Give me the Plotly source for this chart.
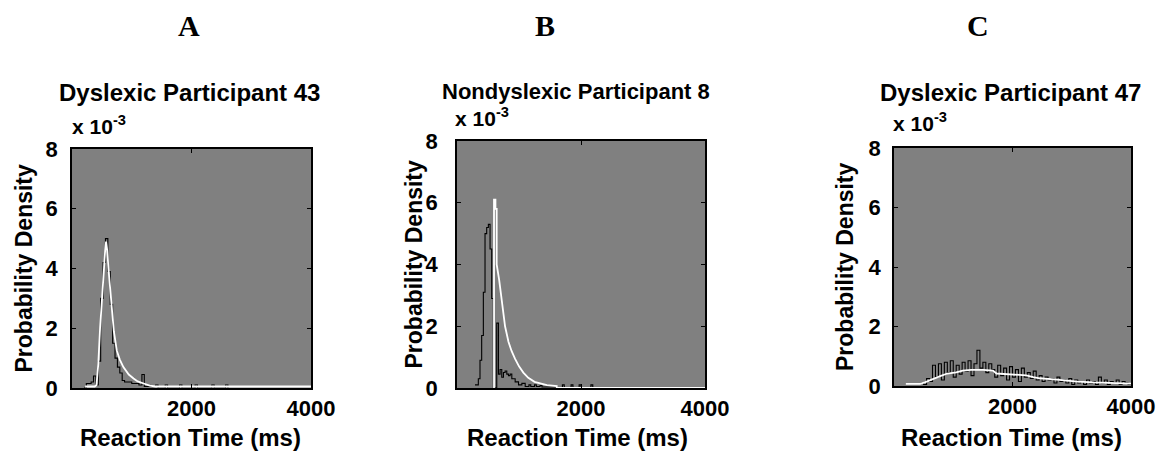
import plotly.graph_objects as go

# ---------------- data (values in units of 1e-3) ----------------
panel_letters = ["A", "B", "C"]
panel_titles = ["Dyslexic Participant 43", "Nondyslexic Participant 8", "Dyslexic Participant 47"]
x_ticks = [2000, 4000]
y_ticks = [0, 2, 4, 6, 8]

# Panel A: histogram (bin left edges / heights) and fitted density
hist_a_x = [200, 240, 280, 320, 360, 400, 440, 480, 520, 560, 600, 640, 680, 720, 760, 800, 840, 880, 1000, 1120,
            1170, 1210, 1400, 1440, 1560, 1600, 1800, 1840, 2060, 2100, 2340, 2380, 2570, 2610]
hist_a_y = [0.0, 0.15, 0.15, 0.2, 0.4, 0.1, 0.9, 3.0, 4.2, 5.0, 3.9, 2.8, 1.5, 1.0, 0.7, 0.5, 0.25, 0.2, 0.15, 0.1,
            0.45, 0.05, 0.1, 0.0, 0.1, 0.0, 0.1, 0.0, 0.1, 0.0, 0.1, 0.0, 0.1, 0.0]
fit_a_x = [220, 380, 410, 440, 470, 500, 530, 555, 570, 590, 610, 640, 670, 700, 750, 800, 860, 950, 1030, 1100,
           1200, 1300, 1400, 4000]
fit_a_y = [0.05, 0.05, 0.1, 0.8, 2.0, 3.0, 4.0, 4.6, 4.9, 4.6, 4.0, 3.3, 2.6, 1.9, 1.25, 0.95, 0.7, 0.45, 0.32, 0.22,
           0.15, 0.08, 0.05, 0.05]

# Panel B
hist_b_x = [290, 317, 344, 371, 398, 425, 452, 479, 506, 533, 560, 587, 641, 668, 695, 722, 749, 776, 803, 830,
            857, 884, 911, 938, 965, 992, 1019, 1046, 1073, 1100, 1160, 1190, 1250, 1280, 1340, 1370, 1600, 1700,
            1730, 1840, 1870, 1970, 2000, 2160, 2190]
hist_b_y = [0.1, 0.1, 0.3, 0.9, 1.7, 3.1, 5.0, 5.2, 5.3, 4.5, 2.9, 0.0, 2.1, 0.45, 0.6, 0.35, 0.5, 0.55, 0.45, 0.4,
            0.45, 0.3, 0.3, 0.2, 0.2, 0.1, 0.1, 0.15, 0.15, 0.05, 0.1, 0.05, 0.1, 0.05, 0.08, 0.03, 0.0, 0.1,
            0.0, 0.1, 0.0, 0.1, 0.0, 0.1, 0.0]
fit_b_x = [597, 597, 620, 620, 640, 640, 680, 720, 775, 830, 880, 935, 1000, 1070, 1150, 1250, 1340, 1450, 1608,
           1608, 4000]
fit_b_y = [0.0, 6.1, 6.1, 5.8, 5.8, 4.0, 3.5, 2.9, 2.0, 1.5, 1.2, 0.95, 0.7, 0.5, 0.33, 0.2, 0.14, 0.09, 0.06,
           0.0, 0.0]

# Panel C
hist_c_start = 450
hist_c_width = 50
hist_c_y = [0.1, 0.05, 0.25, 0.15, 0.7, 0.3, 0.75, 0.2, 0.8, 0.45,
            0.85, 0.3, 0.7, 0.4, 0.8, 0.5, 0.85, 0.35, 0.75, 1.2,
            0.6, 0.8, 0.45, 0.75, 0.55, 0.3, 0.7, 0.35, 0.6, 0.2,
            0.65, 0.3, 0.55, 0.15, 0.6, 0.3, 0.45, 0.25, 0.5, 0.2,
            0.35, 0.15, 0.3, 0.2, 0.25, 0.1, 0.3, 0.15, 0.2, 0.1,
            0.25, 0.05, 0.2, 0.1, 0.15, 0.05, 0.2, 0.1, 0.15, 0.05,
            0.3, 0.1, 0.2, 0.05, 0.15, 0.1, 0.2, 0.05, 0.15, 0.1,
            0.05]
fit_c_x = [200, 440, 520, 610, 700, 780, 900, 1050, 1160, 1300, 1500, 1670, 1730, 1900, 2100, 2230, 2350, 2460,
           2700, 2910, 3100, 3370, 3700, 4000]
fit_c_y = [0.07, 0.07, 0.12, 0.2, 0.28, 0.33, 0.42, 0.46, 0.52, 0.54, 0.54, 0.52, 0.42, 0.4, 0.38, 0.36, 0.3, 0.26,
           0.22, 0.17, 0.15, 0.12, 0.09, 0.08]

hist_c_x = [hist_c_start + i * hist_c_width for i in range(len(hist_c_y))] + [4000]
hist_c_y_plot = hist_c_y + [hist_c_y[-1]]

# ---------------- layout geometry (pixels) ----------------
W, H = 1158, 451
boxes = [(72, 311, 149, 388), (457, 705, 141, 388), (894, 1131, 148, 386)]
letter_x = [189, 545, 978]
title_x = [189, 576, 1010]
title_y = [93, 91, 93]
title_size = [24, 22, 24]
ylab_x = [23, 413, 845]
xlab_x = [190, 577, 1011]
exp_x = [70, 453, 891]
exp_y = [140, 132, 137]
standoffs = [8, 13, 7]

FONT = "Liberation Sans"
fig = go.Figure()

hists = [(hist_a_x, hist_a_y), (hist_b_x, hist_b_y), (hist_c_x, hist_c_y_plot)]
fits = [(fit_a_x, fit_a_y), (fit_b_x, fit_b_y), (fit_c_x, fit_c_y)]

annotations = []
for i in range(3):
    xa = "x" if i == 0 else f"x{i+1}"
    ya = "y" if i == 0 else f"y{i+1}"
    hx, hy = hists[i]
    fx, fy = fits[i]
    fig.add_trace(go.Scatter(x=hx, y=hy, mode="lines", line=dict(color="black", width=1.1, shape="hv"),
                             xaxis=xa, yaxis=ya, showlegend=False, hoverinfo="skip"))
    fig.add_trace(go.Scatter(x=fx, y=fy, mode="lines", line=dict(color="white", width=1.8),
                             xaxis=xa, yaxis=ya, showlegend=False, hoverinfo="skip"))
    x0, x1, y0, y1 = boxes[i]
    common = dict(showline=True, linecolor="black", linewidth=1.5, mirror="ticks", ticks="inside",
                  ticklen=4, tickwidth=1.2, tickcolor="black", showgrid=False, zeroline=False,
                  automargin=False,
                  tickfont=dict(family=FONT, size=22, color="black", weight="bold"))
    xkey = "xaxis" if i == 0 else f"xaxis{i+1}"
    ykey = "yaxis" if i == 0 else f"yaxis{i+1}"
    fig.update_layout({
        xkey: dict(domain=[x0 / W, x1 / W], range=[0, 4000], tickvals=x_ticks, anchor=ya, **common),
        ykey: dict(domain=[1 - y1 / H, 1 - y0 / H], range=[0, 8], tickvals=y_ticks, anchor=xa,
                   ticklabelstandoff=standoffs[i], **common),
    })
    annotations.append(dict(text=f"<b>{panel_letters[i]}</b>", x=letter_x[i] / W, y=1 - 26 / H,
                            xref="paper", yref="paper", showarrow=False, xanchor="center", yanchor="middle",
                            font=dict(family="Liberation Serif", size=30, color="black")))
    annotations.append(dict(text=f"<b>{panel_titles[i]}</b>", x=title_x[i] / W, y=1 - title_y[i] / H,
                            xref="paper", yref="paper", showarrow=False, xanchor="center", yanchor="middle",
                            font=dict(family=FONT, size=title_size[i], color="black")))
    annotations.append(dict(text="<b>x 10<sup>-3</sup></b>", x=exp_x[i] / W, y=1 - exp_y[i] / H,
                            xref="paper", yref="paper", showarrow=False, xanchor="left", yanchor="bottom",
                            font=dict(family=FONT, size=21, color="black")))
    annotations.append(dict(text="<b>Probability Density</b>", x=ylab_x[i] / W, y=1 - (y0 + y1) / 2 / H,
                            xref="paper", yref="paper", showarrow=False, xanchor="center", yanchor="middle",
                            textangle=-90, font=dict(family=FONT, size=23, color="black")))
    annotations.append(dict(text="<b>Reaction Time (ms)</b>", x=xlab_x[i] / W, y=1 - 437 / H,
                            xref="paper", yref="paper", showarrow=False, xanchor="center", yanchor="middle",
                            font=dict(family=FONT, size=24, color="black")))

fig.update_layout(width=W, height=H, margin=dict(l=0, r=0, t=0, b=0, pad=0, autoexpand=False),
                  template="none", paper_bgcolor="white",
                  plot_bgcolor="#808080", annotations=annotations)

fig.write_html("out.html", config={"displayModeBar": False},
               post_script="document.body.style.margin='0';document.body.style.overflow='hidden';")
